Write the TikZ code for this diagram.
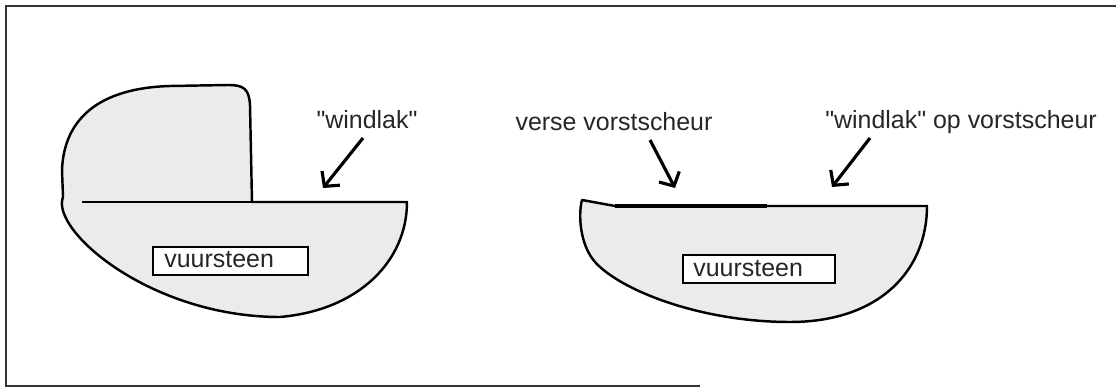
\documentclass[tikz,border=0pt]{standalone}
\usepackage{fontspec}
\setmainfont{Liberation Sans}[Ligatures=TeXOff]
\usetikzlibrary{arrows.meta}
\begin{document}
\begin{tikzpicture}[x=0.02cm,y=-0.02cm,
  stone/.style={draw=black,line width=1.4pt,fill=black!8,line join=round},
  edge/.style={draw=black,line width=1.4pt},
  label/.style={font=\fontsize{14.2}{17}\selectfont,inner sep=0pt,text=black!85},
  namebox/.style={draw=black,line width=1.4pt,fill=white,minimum height=28*0.02cm,inner sep=0pt},
  pointer/.style={draw=black,line width=1.8pt,-{Straight Barb[length=6pt,width=13pt,line width=1.8pt]}}]
\useasboundingbox (0,0) rectangle (1116,388);

% frame
\draw[line width=1.1pt,black!80] (1116,6) -- (6,6) -- (6,386) -- (700,386);

% left flake: cap with windlak on top of the stone
\path[stone] (252,202) -- (250,105) .. controls (249,89) and (244,85) .. (228,85)
  -- (170,86) .. controls (100,88) and (64,118) .. (62,170) -- (63,197)
  .. controls (50,230) and (150,317) .. (280,317)
  .. controls (360,310) and (407,260) .. (407,202) -- cycle;
\draw[edge] (82,202) -- (407,202);

\node[namebox,minimum width=155*0.02cm] (boxL) at (230.5,261) {};
\node[label,anchor=base west] (stoneL) at (164,268) {vuursteen};

\node[label,anchor=base] (wlL) at (367,129) {"windlak"};
\coordinate (startL) at (363,138);
\coordinate (tipL) at (323,188);
\draw[pointer] (startL) -- (tipL);

% right flake: fresh frost crack
\path[stone] (582,200) -- (615,206) -- (927,206)
  .. controls (927,270) and (880,322) .. (790,322)
  .. controls (700,322) and (620,290) .. (595,262)
  .. controls (580,245) and (578,215) .. (582,200) -- cycle;
\draw[line width=2.8pt] (615,206) -- (767,206);

\node[namebox,minimum width=152*0.02cm] (boxR) at (759,269) {};
\node[label,anchor=base west] (stoneR) at (693,276) {vuursteen};

\node[label,anchor=base] (vsR) at (614,131) {verse vorstscheur};
\node[label,anchor=base] (wlR) at (961,129) {"windlak" op vorstscheur};
\coordinate (startV) at (650,140);
\coordinate (startW) at (870,138);
\coordinate (tipV) at (675,188);
\coordinate (tipW) at (832,187);
\draw[pointer] (startV) -- (tipV);
\draw[pointer] (startW) -- (tipW);
\end{tikzpicture}
\end{document}
